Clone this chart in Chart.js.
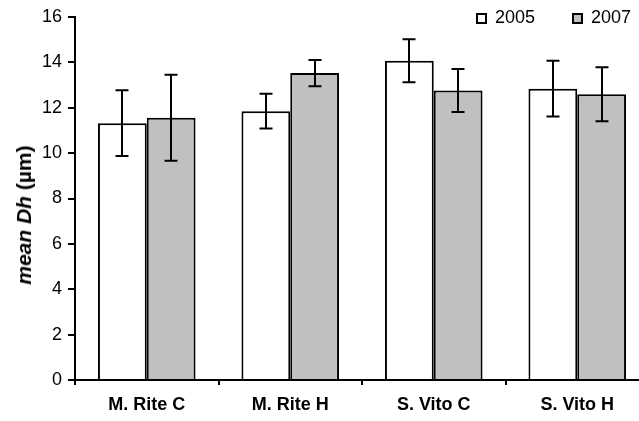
<!DOCTYPE html>
<html>
<head>
<meta charset="utf-8">
<script src="https://cdn.jsdelivr.net/npm/chart.js@4.4.0/dist/chart.umd.min.js"></script>
<style>
  html, body { margin: 0; padding: 0; background: #fff; overflow: hidden; }
  #wrap { position: relative; width: 639px; height: 421px; overflow: hidden; background: #fff; }
  #c { position: absolute; left: 0; top: 0; }
  .ytitle { position: absolute; left: 24px; top: 215px; transform: translate(-50%, -50%) rotate(-90deg);
    font: bold 21px "Liberation Sans", Arial, sans-serif; white-space: nowrap; color: #000; }
  .leg { position: absolute; top: 4px; font: 18px "Liberation Sans", Arial, sans-serif; color: #000; line-height: 26px; white-space: nowrap; }
  .leg span.box { display: inline-block; width: 11px; height: 11px; box-sizing: border-box; border: 2px solid #000; vertical-align: -1px; margin-right: 8px; }
</style>
</head>
<body>
<div id="wrap">
  <canvas id="c" width="660" height="421"></canvas>
  <div class="ytitle"><i>mean Dh</i> (µm)</div>
  <div id="legend"></div>
</div>
<script>
const categories = ["M. Rite C", "M. Rite H", "S. Vito C", "S. Vito H"];
const seriesNames = ["2005", "2007"];
const mean2005 = [11.32, 11.85, 14.07, 12.84];
const err2005  = [1.45, 0.77, 0.95, 1.23];
const mean2007 = [11.56, 13.53, 12.76, 12.60];
const err2007  = [1.90, 0.58, 0.95, 1.19];
const yTicks = [0, 2, 4, 6, 8, 10, 12, 14, 16];
const colors = ["#FFFFFF", "#C0C0C0"];

// HTML legend
const legendPos = [476, 572];
const legendEl = document.getElementById('legend');
seriesNames.forEach((n, i) => {
  const d = document.createElement('div');
  d.className = 'leg';
  d.style.left = legendPos[i] + 'px';
  d.innerHTML = '<span class="box" style="background:' + colors[i] + '"></span>' + n;
  legendEl.appendChild(d);
});

const errors = [err2005, err2007];

const errorBarPlugin = {
  id: 'errorBars',
  afterDatasetsDraw(chart) {
    const ctx = chart.ctx;
    const yScale = chart.scales.y;
    ctx.save();
    ctx.strokeStyle = '#000';
    ctx.lineWidth = 2;
    chart.data.datasets.forEach((ds, di) => {
      const meta = chart.getDatasetMeta(di);
      meta.data.forEach((bar, i) => {
        const v = ds.data[i];
        const e = errors[di][i];
        const x = Math.round(bar.x);
        const yTop = yScale.getPixelForValue(v + e);
        const yBot = yScale.getPixelForValue(v - e);
        const hw = 6.5;
        ctx.beginPath();
        ctx.moveTo(x, yTop); ctx.lineTo(x, yBot);
        ctx.moveTo(x - hw, yTop); ctx.lineTo(x + hw, yTop);
        ctx.moveTo(x - hw, yBot); ctx.lineTo(x + hw, yBot);
        ctx.stroke();
      });
    });
    ctx.restore();
  }
};

new Chart(document.getElementById('c'), {
  type: 'bar',
  data: {
    labels: categories,
    datasets: [
      { label: seriesNames[0], data: mean2005, backgroundColor: colors[0], borderColor: '#000', borderWidth: 2, borderSkipped: 'start' },
      { label: seriesNames[1], data: mean2007, backgroundColor: colors[1], borderColor: '#000', borderWidth: 2, borderSkipped: 'start' }
    ]
  },
  options: {
    responsive: false,
    animation: false,
    devicePixelRatio: 1,
    layout: { padding: { top: 17, right: 11, left: 0, bottom: 0 } },
    plugins: { legend: { display: false }, tooltip: { enabled: false } },
    datasets: { bar: { categoryPercentage: 0.68, barPercentage: 1.0 } },
    scales: {
      x: {
        grid: { display: true, offset: true, drawOnChartArea: false, drawTicks: true, tickLength: 5, color: '#000', lineWidth: 2 },
        border: { display: true, color: '#000', width: 2 },
        ticks: { color: '#000', padding: 9, font: { family: '"Liberation Sans", Arial, sans-serif', size: 18, weight: 'bold' } },
        afterFit(scale) { scale.height = 41; }
      },
      y: {
        min: 0, max: 16,
        afterBuildTicks(scale) { scale.ticks = yTicks.map(v => ({ value: v })); },
        grid: { display: true, drawOnChartArea: false, drawTicks: true, tickLength: 7, color: '#000', lineWidth: 2 },
        border: { display: true, color: '#000', width: 2 },
        ticks: { color: '#000', padding: 6, font: { family: '"Liberation Sans", Arial, sans-serif', size: 18 } },
        afterFit(scale) { scale.width = 75; }
      }
    }
  },
  plugins: [errorBarPlugin]
});
</script>
</body>
</html>
